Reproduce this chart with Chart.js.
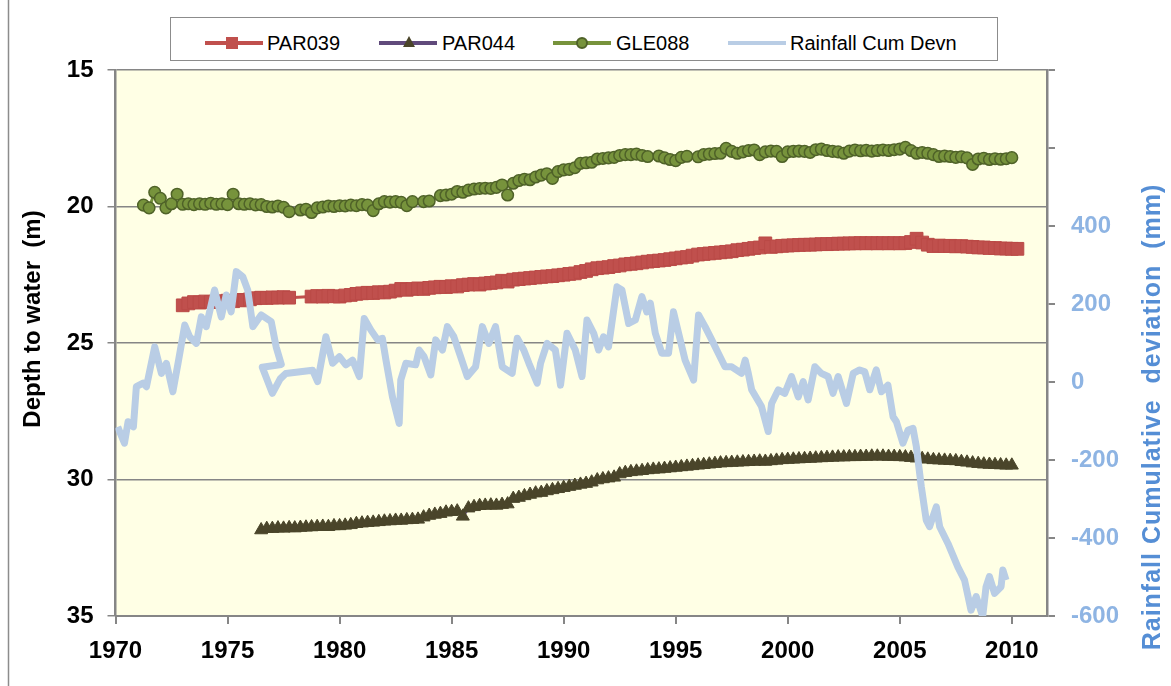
<!DOCTYPE html>
<html>
<head>
<meta charset="utf-8">
<script src="https://cdn.jsdelivr.net/npm/chart.js"></script>
<style>
  body { margin: 0; background: #fff; }
  #wrap { position: relative; width: 1171px; height: 686px; font-family: "Liberation Sans", Arial, sans-serif; }
  #legend { position: absolute; left: 170px; top: 17px; width: 826px; height: 42px; border: 1px solid #8c8c8c; background: #fff; }
  #legend .ln { position: absolute; top: 23px; height: 4px; width: 58px; }
  #legend .tx { position: absolute; top: 13px; font-size: 20px; line-height: 24px; color: #000; white-space: nowrap; }
</style>
</head>
<body>
<div id="wrap">
  <canvas id="grafico" width="1171" height="686"></canvas>
  <div id="legend">
    <div class="ln" style="left:34px;background:#C0504D"></div>
    <div style="position:absolute;left:55px;top:19px;width:12px;height:12px;background:#C0504D"></div>
    <div class="tx" style="left:96px">PAR039</div>
    <div class="ln" style="left:208px;background:#604A7B"></div>
    <div style="position:absolute;left:232px;top:18px;width:0;height:0;border-left:6px solid transparent;border-right:6px solid transparent;border-bottom:11px solid #4A452A"></div>
    <div class="tx" style="left:271px">PAR044</div>
    <div class="ln" style="left:382px;background:#77933C"></div>
    <div style="position:absolute;left:405px;top:19px;width:12px;height:12px;box-sizing:border-box;border-radius:50%;background:#77933C;border:2px solid #4F6228"></div>
    <div class="tx" style="left:445px">GLE088</div>
    <div class="ln" style="left:557px;background:#B9CDE5"></div>
    <div class="tx" style="left:619px">Rainfall Cum Devn</div>
  </div>
</div>
<script>
// Fechas trimestrales (año decimal) compartidas por los piezómetros
const quarterYears = [
  1970.00, 1970.25, 1970.50, 1970.75, 1971.00, 1971.25, 1971.50, 1971.75,
  1972.00, 1972.25, 1972.50, 1972.75, 1973.00, 1973.25, 1973.50, 1973.75,
  1974.00, 1974.25, 1974.50, 1974.75, 1975.00, 1975.25, 1975.50, 1975.75,
  1976.00, 1976.25, 1976.50, 1976.75, 1977.00, 1977.25, 1977.50, 1977.75,
  1978.00, 1978.25, 1978.50, 1978.75, 1979.00, 1979.25, 1979.50, 1979.75,
  1980.00, 1980.25, 1980.50, 1980.75, 1981.00, 1981.25, 1981.50, 1981.75,
  1982.00, 1982.25, 1982.50, 1982.75, 1983.00, 1983.25, 1983.50, 1983.75,
  1984.00, 1984.25, 1984.50, 1984.75, 1985.00, 1985.25, 1985.50, 1985.75,
  1986.00, 1986.25, 1986.50, 1986.75, 1987.00, 1987.25, 1987.50, 1987.75,
  1988.00, 1988.25, 1988.50, 1988.75, 1989.00, 1989.25, 1989.50, 1989.75,
  1990.00, 1990.25, 1990.50, 1990.75, 1991.00, 1991.25, 1991.50, 1991.75,
  1992.00, 1992.25, 1992.50, 1992.75, 1993.00, 1993.25, 1993.50, 1993.75,
  1994.00, 1994.25, 1994.50, 1994.75, 1995.00, 1995.25, 1995.50, 1995.75,
  1996.00, 1996.25, 1996.50, 1996.75, 1997.00, 1997.25, 1997.50, 1997.75,
  1998.00, 1998.25, 1998.50, 1998.75, 1999.00, 1999.25, 1999.50, 1999.75,
  2000.00, 2000.25, 2000.50, 2000.75, 2001.00, 2001.25, 2001.50, 2001.75,
  2002.00, 2002.25, 2002.50, 2002.75, 2003.00, 2003.25, 2003.50, 2003.75,
  2004.00, 2004.25, 2004.50, 2004.75, 2005.00, 2005.25, 2005.50, 2005.75,
  2006.00, 2006.25, 2006.50, 2006.75, 2007.00, 2007.25, 2007.50, 2007.75,
  2008.00, 2008.25, 2008.50, 2008.75, 2009.00, 2009.25, 2009.50, 2009.75,
  2010.00, 2010.25
];

// Profundidad al agua (m), una fila por año
const par039 = [
  null, null, null, null,
  null, null, null, null,
  null, null, null, null,
  23.62, 23.55, 23.50, 23.52,
  23.48, 23.50, 23.47, 23.49,
  23.45, 23.47, 23.42, 23.44,
  23.40, 23.36, 23.34, 23.35,
  23.33, 23.34, 23.32, 23.34,
  null, null, null, 23.30,
  23.28, 23.30, 23.27, 23.29,
  23.30, 23.26, 23.24, 23.20,
  23.18, 23.16, 23.17, 23.14,
  23.15, 23.12, 23.08, 23.02,
  23.05, 23.02, 23.00, 23.02,
  22.98, 22.96, 22.94, 22.95,
  22.92, 22.93, 22.88, 22.86,
  22.84, 22.86, 22.82, 22.80,
  22.78, 22.72, 22.75, 22.68,
  22.66, 22.64, 22.62, 22.60,
  22.58, 22.56, 22.55, 22.52,
  22.50, 22.47, 22.45, 22.40,
  22.36, 22.30, 22.26, 22.24,
  22.22, 22.18, 22.16, 22.12,
  22.10, 22.08, 22.05, 22.02,
  22.00, 21.98, 21.96, 21.93,
  21.90, 21.87, 21.85, 21.80,
  21.76, 21.74, 21.72, 21.70,
  21.68, 21.66, 21.64, 21.60,
  21.58, 21.55, 21.52, 21.50,
  21.35, 21.48, 21.46, 21.44,
  21.43, 21.42, 21.41, 21.40,
  21.40, 21.39, 21.38, 21.38,
  21.37, 21.36, 21.36, 21.35,
  21.35, 21.34, 21.35, 21.34,
  21.35, 21.34, 21.35, 21.34,
  21.35, 21.34, 21.30, 21.18,
  21.32, 21.40, 21.45, 21.43,
  21.45, 21.44, 21.46, 21.45,
  21.47, 21.48, 21.50, 21.50,
  21.52, 21.52, 21.54, 21.54,
  21.55, 21.55
];

const par044 = [
  null, null, null, null,
  null, null, null, null,
  null, null, null, null,
  null, null, null, null,
  null, null, null, null,
  null, null, null, null,
  null, null, 31.85, 31.80,
  31.80, 31.78, 31.79, 31.77,
  31.78, 31.76, 31.75, 31.74,
  31.73, 31.72, 31.73, 31.70,
  31.70, 31.68, 31.66, 31.62,
  31.60, 31.58, 31.57, 31.55,
  31.53, 31.52, 31.50, 31.50,
  31.48, 31.47, 31.46, 31.38,
  31.32, 31.28, 31.25, 31.20,
  31.18, 31.16, 31.35, 31.05,
  31.00, 30.96, 30.95, 30.94,
  30.95, 30.92, 30.90, 30.70,
  30.66, 30.60, 30.55, 30.50,
  30.48, 30.42, 30.38, 30.34,
  30.30, 30.26, 30.22, 30.18,
  30.15, 30.10, 30.02, 29.98,
  29.95, 29.92, 29.80, 29.75,
  29.72, 29.70, 29.68, 29.65,
  29.63, 29.62, 29.60, 29.58,
  29.56, 29.54, 29.52, 29.50,
  29.48, 29.46, 29.44, 29.42,
  29.40, 29.39, 29.38, 29.37,
  29.36, 29.35, 29.34, 29.33,
  29.34, 29.32, 29.30, 29.28,
  29.27, 29.26, 29.25, 29.24,
  29.23, 29.22, 29.21, 29.20,
  29.19, 29.18, 29.18, 29.17,
  29.17, 29.16, 29.16, 29.15,
  29.15, 29.15, 29.16, 29.16,
  29.17, 29.18, 29.20, 29.22,
  29.24, 29.26, 29.28, 29.29,
  29.30, 29.31, 29.32, 29.35,
  29.37, 29.40, 29.42, 29.44,
  29.45, 29.46, 29.47, 29.48,
  29.48, null
];

const gle088 = [
  null, null, null, null,
  null, 19.95, 20.05, 19.48,
  19.70, 20.05, 19.90, 19.55,
  19.92, 19.90, 19.93, 19.90,
  19.92, 19.88, 19.92, 19.90,
  19.93, 19.55, 19.90, 19.92,
  19.90, 19.94, 19.93, 20.00,
  20.02, 19.98, 20.03, 20.19,
  null, 20.13, 20.10, 20.22,
  20.05, 20.02, 19.98, 20.00,
  19.97, 19.98, 19.95, 19.97,
  19.93, 19.95, 20.15, 19.90,
  19.82, 19.84, 19.82, 19.85,
  19.97, 19.82, null, 19.82,
  19.80, null, 19.60, 19.58,
  19.55, 19.45, 19.48, 19.40,
  19.36, 19.34, 19.33, 19.34,
  19.30, 19.21, 19.58, 19.15,
  19.05, 19.00, 19.02, 18.92,
  18.85, 18.80, 18.97, 18.72,
  18.66, 18.64, 18.58, 18.42,
  18.40, 18.38, 18.26, 18.24,
  18.22, 18.20, 18.13, 18.10,
  18.10, 18.08, 18.13, 18.17,
  null, 18.15, 18.22, 18.28,
  18.32, 18.20, 18.16, null,
  18.18, 18.10, 18.08, 18.06,
  18.05, 17.87, 17.98, 18.05,
  18.00, 17.95, 17.93, 18.10,
  18.00, 17.97, 17.98, 18.17,
  18.00, 17.98, 17.97, 17.98,
  18.02, 17.92, 17.90, 17.95,
  17.98, 18.00, 18.05, 17.97,
  17.93, 17.96, 17.94, 17.97,
  17.95, 17.93, 17.95, 17.92,
  17.90, 17.83, 17.95, 18.05,
  18.02, 18.05, 18.10, 18.17,
  18.15, 18.17, 18.20, 18.18,
  18.22, 18.46, 18.26, 18.23,
  18.28, 18.25, 18.27, 18.25,
  18.21, null
];

// Desviación acumulada de la lluvia (mm)
const rainYears = [
  1970.10, 1970.40, 1970.56, 1970.80, 1970.93, 1971.23, 1971.38, 1971.75,
  1972.05, 1972.27, 1972.56, 1972.79, 1973.09, 1973.31, 1973.61, 1973.83,
  1974.05, 1974.42, 1974.72, 1974.94, 1975.16, 1975.39, 1975.68, 1975.90,
  1976.13, 1976.50, 1976.95, 1977.17, 1977.40, 1976.55, 1977.00, 1977.35,
  1977.60, 1978.80, 1979.02, 1979.39, 1979.69, 1979.99, 1980.28, 1980.58,
  1980.88, 1981.10, 1981.40, 1981.70, 1981.91, 1982.07, 1982.36, 1982.66,
  1982.73, 1982.96, 1983.40, 1983.55, 1983.77, 1984.07, 1984.29, 1984.59,
  1984.81, 1985.10, 1985.40, 1985.70, 1986.07, 1986.37, 1986.66, 1986.96,
  1987.26, 1987.70, 1987.93, 1988.22, 1988.45, 1988.82, 1988.97, 1989.26,
  1989.63, 1989.86, 1990.15, 1990.52, 1990.82, 1991.04, 1991.34, 1991.56,
  1991.78, 1992.00, 1992.38, 1992.60, 1992.90, 1993.20, 1993.49, 1993.71,
  1993.87, 1994.09, 1994.38, 1994.68, 1994.90, 1995.13, 1995.42, 1995.80,
  1996.02, 1996.31, 1996.61, 1996.83, 1997.20, 1997.50, 1997.94, 1998.10,
  1998.24, 1998.39, 1998.83, 1999.13, 1999.28, 1999.58, 1999.87, 2000.17,
  2000.47, 2000.69, 2000.91, 2001.21, 2001.50, 2001.80, 2002.02, 2002.25,
  2002.62, 2002.92, 2003.21, 2003.44, 2003.66, 2003.95, 2004.18, 2004.47,
  2004.70, 2004.85, 2005.14, 2005.37, 2005.59, 2005.74, 2005.96, 2006.18,
  2006.33, 2006.63, 2006.78, 2007.15, 2007.59, 2007.89, 2008.18, 2008.41,
  2008.70, 2008.85, 2009.00, 2009.23, 2009.52, 2009.60, 2009.74
];
const rainDev = [
  -115, -157, -102, -115, -12, -3, -12, 90,
  22, 48, -25, 48, 146, 116, 99, 167,
  142, 236, 167, 223, 180, 283, 270, 236,
  142, 172, 155, 90, 45, 38, -29, 8,
  22, 30, 1, 116, 48, 65, 44, 56,
  14, 163, 133, 108, 112, 56, -38, -106,
  5, 48, 44, 82, 65, 18, 108, 82,
  142, 116, 65, 14, 39, 142, 99, 142,
  39, 22, 112, 82, 48, -3, 48, 99,
  82, -8, 125, 82, 14, 159, 125, 82,
  116, 90, 244, 236, 150, 159, 219, 180,
  202, 125, 74, 74, 180, 125, 56, 5,
  172, 142, 108, 82, 39, 39, 22, 56,
  22, -20, -63, -127, -55, -20, -29, 14,
  -38, 1, -46, 39, 22, 14, -29, 14,
  -55, 22, 31, 26, -20, 31, -25, -8,
  -89, -102, -157, -123, -119, -166, -268, -354,
  -371, -320, -371, -414, -474, -508, -585, -550,
  -601, -525, -499, -542, -525, -482, -508
];

// Etiquetas de los ejes
const yearTicks = [1970, 1975, 1980, 1985, 1990, 1995, 2000, 2005, 2010];
const rainTickLabels = ['-600', '-400', '-200', '0', '200', '400'];
const depthTitle = 'Depth to water  (m)';
const rainTitle = 'Rainfall Cumulative  deviation  (mm)';

const gris = '#868686';
const fuente = '"Liberation Sans", Arial, sans-serif';

function puntos(valores) {
  return quarterYears.map((x, i) => ({ x, y: valores[i] }));
}

// Fondo del área de trazado y títulos de los ejes
const fondoPlugin = {
  id: 'fondo',
  beforeDraw(chart) {
    const { ctx, chartArea: a } = chart;
    ctx.save();
    ctx.fillStyle = '#FFFFE5';
    ctx.fillRect(a.left, a.top, a.right - a.left, a.bottom - a.top);
    ctx.strokeStyle = '#8c8c8c';
    ctx.lineWidth = 1.5;
    ctx.beginPath();
    ctx.moveTo(8.5, 0);
    ctx.lineTo(8.5, chart.height);
    ctx.stroke();
    ctx.restore();
  },
  afterDraw(chart) {
    const ctx = chart.ctx;
    ctx.save();
    ctx.font = 'bold 24px ' + fuente;
    ctx.textAlign = 'center';
    ctx.textBaseline = 'middle';
    ctx.fillStyle = '#000';
    ctx.translate(33.5, 319);
    ctx.rotate(-Math.PI / 2);
    ctx.fillText(depthTitle, 0, 0);
    ctx.restore();

    ctx.save();
    ctx.font = 'bold 25px ' + fuente;
    ctx.letterSpacing = '1px';
    ctx.textAlign = 'center';
    ctx.textBaseline = 'middle';
    ctx.fillStyle = '#558ED5';
    ctx.translate(1153, 417);
    ctx.rotate(-Math.PI / 2);
    ctx.fillText(rainTitle, 0, 0);
    ctx.letterSpacing = '0px';
    ctx.restore();
  }
};

Chart.defaults.font.family = fuente;

const ctx = document.getElementById('grafico').getContext('2d');
const grafico = new Chart(ctx, {
  type: 'line',
  data: {
    datasets: [
      {
        label: 'PAR039',
        data: puntos(par039),
        yAxisID: 'y',
        borderColor: '#C0504D',
        borderWidth: 3,
        pointStyle: 'rect',
        pointRadius: 9,
        pointBackgroundColor: '#C0504D',
        pointBorderColor: '#BA4A47',
        pointBorderWidth: 1,
        spanGaps: true,
        order: 1
      },
      {
        label: 'PAR044',
        data: puntos(par044),
        yAxisID: 'y',
        borderColor: '#604A7B',
        borderWidth: 3,
        pointStyle: 'triangle',
        pointRadius: 7.5,
        pointBackgroundColor: '#4A452A',
        pointBorderColor: '#4A452A',
        pointBorderWidth: 1,
        spanGaps: true,
        order: 1
      },
      {
        label: 'GLE088',
        data: puntos(gle088),
        yAxisID: 'y',
        borderColor: '#77933C',
        borderWidth: 3,
        pointStyle: 'circle',
        pointRadius: 5.8,
        pointBackgroundColor: '#77933C',
        pointBorderColor: '#4F6228',
        pointBorderWidth: 1.5,
        spanGaps: true,
        order: 1
      },
      {
        label: 'Rainfall Cum Devn',
        data: rainYears.map((x, i) => ({ x, y: rainDev[i] })),
        yAxisID: 'y2',
        borderColor: '#B9CDE5',
        borderWidth: 7,
        pointRadius: 0,
        borderJoinStyle: 'round',
        order: 0
      }
    ]
  },
  options: {
    responsive: false,
    animation: false,
    devicePixelRatio: 1,
    layout: { padding: { top: 70, left: 0, right: 0, bottom: 0 } },
    plugins: {
      legend: { display: false },
      tooltip: { enabled: false }
    },
    scales: {
      x: {
        type: 'linear',
        position: 'bottom',
        min: 1970,
        max: 2011.57,
        afterBuildTicks: (s) => { s.ticks = yearTicks.map(v => ({ value: v })); },
        afterFit: (s) => { s.height = 70; },
        ticks: {
          autoSkip: false,
          maxRotation: 0,
          padding: 13,
          color: '#000',
          font: { size: 24, weight: 'bold' },
          callback: (v) => String(v)
        },
        grid: { drawOnChartArea: false, color: gris, lineWidth: 2, tickLength: 8 },
        border: { color: gris, width: 2 }
      },
      y: {
        position: 'left',
        reverse: true,
        min: 15,
        max: 35,
        afterFit: (s) => { s.width = 115.5; },
        ticks: {
          stepSize: 5,
          padding: 14,
          color: '#000',
          font: { size: 24, weight: 'bold' }
        },
        grid: { color: gris, lineWidth: 1.5, tickLength: 8 },
        border: { color: gris, width: 2.5 }
      },
      y2: {
        position: 'right',
        min: -600,
        max: 800,
        afterFit: (s) => { s.width = 124; },
        ticks: {
          stepSize: 200,
          padding: 16,
          color: '#8EB4E3',
          font: { size: 24, weight: 'bold' },
          callback: (v) => rainTickLabels.includes(String(v)) ? String(v) : ''
        },
        grid: { drawOnChartArea: false, color: gris, lineWidth: 2, tickLength: 8 },
        border: { color: gris, width: 2.5 }
      }
    }
  },
  plugins: [fondoPlugin]
});
</script>
</body>
</html>
